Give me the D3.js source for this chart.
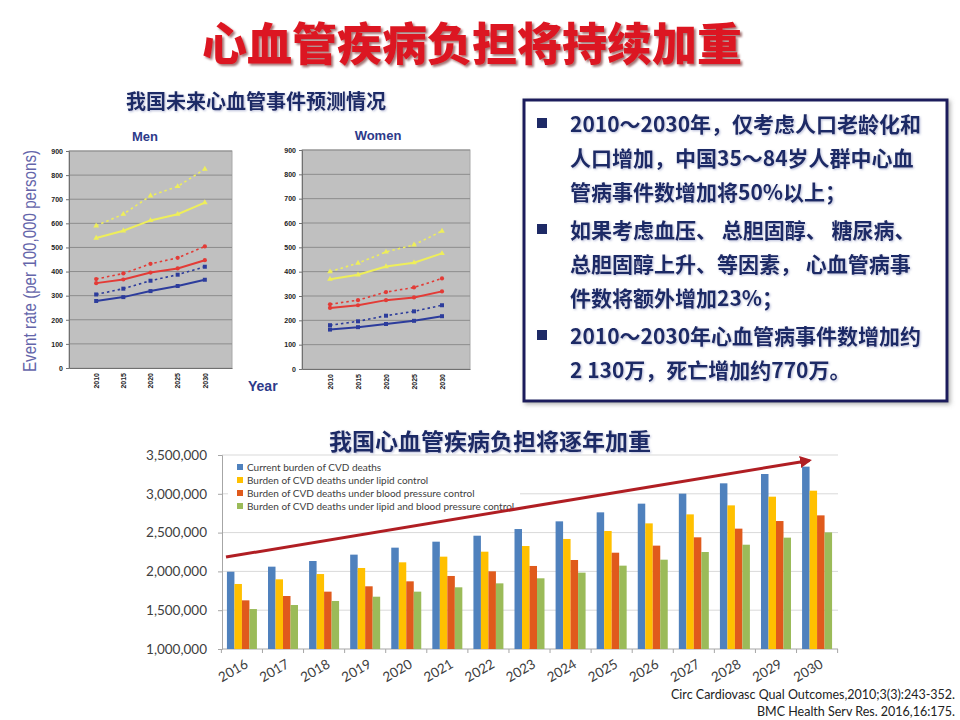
<!DOCTYPE html>
<html>
<head>
<meta charset="utf-8">
<script src="https://cdn.jsdelivr.net/npm/d3@7"></script>
<style>
  body { margin: 0; background: #fff; }
</style>
</head>
<body>
<svg id="chart"></svg>
<script>
// ---- top: projected event rates (per 100,000 persons) ----
const lineYears = ['2010', '2015', '2020', '2025', '2030'];
const lineTicks = [0, 100, 200, 300, 400, 500, 600, 700, 800, 900];

const menYellowDotted = [590, 638, 714, 753, 825];
const menYellowSolid  = [539, 569, 612, 638, 686];
const menRedDotted    = [369, 392, 432, 457, 504];
const menRedSolid     = [352, 367, 396, 413, 447];
const menBlueDotted   = [305, 329, 362, 387, 420];
const menBlueSolid    = [278, 294, 319, 340, 366];

const womenYellowDotted = [400, 435, 481, 510, 567];
const womenYellowSolid  = [369, 387, 421, 437, 475];
const womenRedDotted    = [266, 283, 316, 335, 372];
const womenRedSolid     = [251, 262, 283, 294, 319];
const womenBlueDotted   = [180, 196, 219, 237, 262];
const womenBlueSolid    = [162, 172, 185, 198, 217];

// ---- bottom: burden of CVD deaths ----
const barYears = ['2016', '2017', '2018', '2019', '2020', '2021', '2022', '2023',
                  '2024', '2025', '2026', '2027', '2028', '2029', '2030'];
const barSeries = ['Current burden of CVD deaths',
                   'Burden of CVD deaths under lipid control',
                   'Burden of CVD deaths under blood pressure control',
                   'Burden of CVD deaths under lipid and blood pressure control'];
const currentBurden  = [1996000, 2061000, 2134000, 2216000, 2306000, 2383000, 2460000, 2546000,
                        2645000, 2761000, 2873000, 3002000, 3135000, 3255000, 3350000];
const lipidControl   = [1838000, 1898000, 1966000, 2044000, 2117000, 2190000, 2254000, 2327000,
                        2418000, 2521000, 2619000, 2735000, 2851000, 2963000, 3040000];
const bpControl      = [1627000, 1683000, 1739000, 1808000, 1872000, 1941000, 2001000, 2070000,
                        2147000, 2241000, 2332000, 2439000, 2551000, 2649000, 2722000];
const lipidBpControl = [1515000, 1567000, 1619000, 1674000, 1739000, 1795000, 1846000, 1911000,
                        1984000, 2074000, 2151000, 2250000, 2344000, 2435000, 2503000];
const barTicks = [1000000, 1500000, 2000000, 2500000, 3000000, 3500000];
const trendArrow = [2185000, 3430000]; // red arrow, from 2016 to 2030

const notes = [
  ['2010～2030年，仅考虑人口老龄化和', '人口增加，中国35～84岁人群中心血', '管病事件数增加将50%以上；'],
  ['如果考虑血压、 总胆固醇、 糖尿病、', '总胆固醇上升、等因素， 心血管病事', '件数将额外增加23%；'],
  ['2010～2030年心血管病事件数增加约', '2 130万，死亡增加约770万。']
];
const citations = ['Circ Cardiovasc Qual Outcomes,2010;3(3):243-352.', 'BMC Health Serv Res. 2016,16:175.'];

const cjk = '"Noto Sans CJK SC", "Noto Sans", sans-serif';
const latin = 'Lato, "Liberation Sans", sans-serif';
const navy = '#1e2a66';

const svg = d3.select('#chart').attr('width', 960).attr('height', 720);

const defs = svg.append('defs');
defs.append('filter').attr('id', 'titleShadow')
  .append('feDropShadow').attr('dx', 2).attr('dy', 2).attr('stdDeviation', 1)
  .attr('flood-color', '#5a0000').attr('flood-opacity', 0.55);
defs.append('filter').attr('id', 'softShadow')
  .append('feDropShadow').attr('dx', 1).attr('dy', 1).attr('stdDeviation', 1)
  .attr('flood-color', '#8890c0').attr('flood-opacity', 0.6);
defs.append('filter').attr('id', 'boxShadow').attr('x', -0.05).attr('y', -0.05).attr('width', 1.1).attr('height', 1.1)
  .append('feDropShadow').attr('dx', 2).attr('dy', 2).attr('stdDeviation', 2)
  .attr('flood-color', '#666').attr('flood-opacity', 0.5);
defs.append('marker').attr('id', 'arrowHead')
  .attr('viewBox', '0 0 10 10').attr('refX', 8).attr('refY', 5)
  .attr('markerWidth', 4).attr('markerHeight', 4).attr('orient', 'auto')
  .append('path').attr('d', 'M0,0 L10,5 L0,10 z').attr('fill', '#b01e23');

// titles
svg.append('text')
  .attr('x', 472).attr('y', 41)
  .attr('text-anchor', 'middle').attr('dominant-baseline', 'central')
  .attr('font-family', cjk).attr('font-weight', 900).attr('font-size', 45)
  .attr('fill', '#dc1920').attr('filter', 'url(#titleShadow)')
  .text('心血管疾病负担将持续加重');

svg.append('text')
  .attr('x', 256).attr('y', 100)
  .attr('text-anchor', 'middle').attr('dominant-baseline', 'central')
  .attr('font-family', cjk).attr('font-weight', 700).attr('font-size', 20)
  .attr('fill', navy).attr('filter', 'url(#softShadow)')
  .text('我国未来心血管事件预测情况');

// ---- line charts ----
function drawLineChart(cfg) {
  const g = svg.append('g');
  const x = d3.scalePoint().domain(lineYears).range([cfg.left, cfg.right]).padding(1);
  const y = d3.scaleLinear().domain([0, 900]).range([cfg.bottom, cfg.top]);

  g.append('rect')
    .attr('x', cfg.left).attr('y', cfg.top)
    .attr('width', cfg.right - cfg.left).attr('height', cfg.bottom - cfg.top)
    .attr('fill', '#c0c0c0').attr('stroke', '#a8a8a8');

  g.selectAll('.grid').data(lineTicks.filter(t => t > 0)).join('line')
    .attr('x1', cfg.left).attr('x2', cfg.right)
    .attr('y1', d => y(d)).attr('y2', d => y(d))
    .attr('stroke', '#8c8c8c').attr('stroke-width', 1);

  const yAxis = g.append('g')
    .attr('transform', `translate(${cfg.left},0)`)
    .call(d3.axisLeft(y).tickValues(lineTicks).tickSize(3).tickPadding(3));
  yAxis.select('.domain').attr('stroke', '#707070');
  yAxis.selectAll('line').attr('stroke', '#707070');
  yAxis.selectAll('text').attr('font-family', '"Liberation Sans", Arial, sans-serif')
    .attr('font-weight', 700).attr('font-size', 7).attr('fill', '#222');

  const xAxis = g.append('g')
    .attr('transform', `translate(0,${cfg.bottom})`)
    .call(d3.axisBottom(x).tickSize(0).tickPadding(5));
  xAxis.select('.domain').attr('stroke', '#707070');
  xAxis.selectAll('text')
    .attr('font-family', '"Liberation Sans", Arial, sans-serif')
    .attr('font-weight', 700).attr('font-size', 7).attr('fill', '#222')
    .attr('text-anchor', 'end').attr('dy', '0.32em')
    .attr('transform', 'rotate(-90)')
    .attr('x', -5).attr('y', 0);

  const line = d3.line().x((d, i) => x(lineYears[i])).y(d => y(d));

  cfg.series.forEach(s => {
    g.append('path')
      .attr('d', line(s.values))
      .attr('fill', 'none')
      .attr('stroke', s.color)
      .attr('stroke-width', s.dashed ? 1.6 : 2)
      .attr('stroke-dasharray', s.dashed ? '2.5,3' : null);
    const sym = d3.symbol().type(s.marker).size(s.marker === d3.symbolSquare ? 16 : 14);
    g.selectAll(null).data(s.values).join('path')
      .attr('d', sym)
      .attr('transform', (d, i) => `translate(${x(lineYears[i])},${y(d)})`)
      .attr('fill', s.color);
  });

  g.append('text')
    .attr('x', cfg.titleX).attr('y', cfg.top - 15)
    .attr('text-anchor', 'middle').attr('dominant-baseline', 'central')
    .attr('font-family', '"Liberation Sans", Arial, sans-serif')
    .attr('font-weight', 700).attr('font-size', 13)
    .attr('fill', '#2d3a8a')
    .text(cfg.title);
}

const yellow = '#eeee5a', red = '#e33b36', blue = '#2c3c9c';

drawLineChart({
  left: 69, right: 232, top: 151, bottom: 368, title: 'Men', titleX: 145,
  series: [
    {values: menYellowDotted, color: yellow, dashed: true, marker: d3.symbolTriangle},
    {values: menYellowSolid, color: yellow, dashed: false, marker: d3.symbolTriangle},
    {values: menRedDotted, color: red, dashed: true, marker: d3.symbolCircle},
    {values: menRedSolid, color: red, dashed: false, marker: d3.symbolCircle},
    {values: menBlueDotted, color: blue, dashed: true, marker: d3.symbolSquare},
    {values: menBlueSolid, color: blue, dashed: false, marker: d3.symbolSquare}
  ]
});

drawLineChart({
  left: 302, right: 470, top: 150, bottom: 369, title: 'Women', titleX: 378,
  series: [
    {values: womenYellowDotted, color: yellow, dashed: true, marker: d3.symbolTriangle},
    {values: womenYellowSolid, color: yellow, dashed: false, marker: d3.symbolTriangle},
    {values: womenRedDotted, color: red, dashed: true, marker: d3.symbolCircle},
    {values: womenRedSolid, color: red, dashed: false, marker: d3.symbolCircle},
    {values: womenBlueDotted, color: blue, dashed: true, marker: d3.symbolSquare},
    {values: womenBlueSolid, color: blue, dashed: false, marker: d3.symbolSquare}
  ]
});

svg.append('text')
  .attr('transform', 'translate(29,261) rotate(-90)')
  .attr('text-anchor', 'middle').attr('dominant-baseline', 'central')
  .attr('font-family', '"Liberation Sans", Arial, sans-serif')
  .attr('font-size', 18.5).attr('fill', '#6465aa')
  .attr('textLength', 222).attr('lengthAdjust', 'spacingAndGlyphs')
  .text('Event rate (per 100,000 persons)');

svg.append('text')
  .attr('x', 248).attr('y', 386)
  .attr('dominant-baseline', 'central')
  .attr('font-family', '"Liberation Sans", Arial, sans-serif')
  .attr('font-weight', 700).attr('font-size', 14).attr('fill', '#2d3a8a')
  .text('Year');

// ---- text box ----
const box = svg.append('g');
box.append('rect')
  .attr('x', 524).attr('y', 100).attr('width', 423).attr('height', 301)
  .attr('fill', '#fff').attr('stroke', '#1a1f5c').attr('stroke-width', 3)
  .attr('filter', 'url(#boxShadow)');

let ly = 123;
notes.forEach((para, pi) => {
  if (pi > 0) ly += 4;
  box.append('rect')
    .attr('x', 537).attr('y', ly - 5).attr('width', 10).attr('height', 10)
    .attr('fill', navy);
  para.forEach(t => {
    box.append('text')
      .attr('x', 570).attr('y', ly)
      .attr('dominant-baseline', 'central')
      .attr('font-family', cjk).attr('font-weight', 700).attr('font-size', 21)
      .attr('fill', navy).attr('filter', 'url(#softShadow)')
      .text(t);
    ly += 34;
  });
});

// ---- bar chart ----
svg.append('text')
  .attr('x', 490).attr('y', 440)
  .attr('text-anchor', 'middle').attr('dominant-baseline', 'central')
  .attr('font-family', cjk).attr('font-weight', 700).attr('font-size', 23)
  .attr('fill', navy).attr('filter', 'url(#softShadow)')
  .text('我国心血管疾病负担将逐年加重');

const bx = d3.scaleBand().domain(barYears).range([222, 837]).paddingInner(0.27).paddingOuter(0.12);
const bx1 = d3.scaleBand().domain(barSeries).range([0, bx.bandwidth()]);
const by = d3.scaleLinear().domain([1000000, 3500000]).range([649, 455]);
const barColors = d3.scaleOrdinal().domain(barSeries).range(['#4f81bd', '#ffc000', '#e05a1c', '#9bbb59']);
const barValues = [currentBurden, lipidControl, bpControl, lipidBpControl];

const bar = svg.append('g');

bar.selectAll('.bgrid').data(barTicks.filter(t => t > 1000000)).join('line')
  .attr('x1', 222).attr('x2', 838)
  .attr('y1', d => by(d)).attr('y2', d => by(d))
  .attr('stroke', '#d9d9d9').attr('stroke-width', 1);

const byAxis = bar.append('g')
  .attr('transform', 'translate(222,0)')
  .call(d3.axisLeft(by).tickValues(barTicks).tickFormat(d3.format(',')).tickSize(4).tickPadding(11));
byAxis.select('.domain').attr('stroke', '#a6a6a6');
byAxis.selectAll('line').attr('stroke', '#a6a6a6');
byAxis.selectAll('text').attr('font-family', latin).attr('font-size', 13.5).attr('fill', '#404040');

// x axis with ticks between groups
const step = bx.step();
bar.append('line')
  .attr('x1', 222).attr('x2', 838).attr('y1', 649).attr('y2', 649)
  .attr('stroke', '#a6a6a6');
bar.selectAll('.xtick').data(barYears.concat(['end'])).join('line')
  .attr('x1', (d, i) => bx(barYears[0]) - step * bx.paddingInner() / 2 + i * step)
  .attr('x2', (d, i) => bx(barYears[0]) - step * bx.paddingInner() / 2 + i * step)
  .attr('y1', 649).attr('y2', 653)
  .attr('stroke', '#a6a6a6');
bar.selectAll('.xlabel').data(barYears).join('text')
  .attr('transform', d => `translate(${bx(d) + bx.bandwidth() / 2 + 2},${658}) rotate(-30)`)
  .attr('text-anchor', 'end').attr('dy', '0.75em')
  .attr('font-family', latin).attr('font-size', 13.5).attr('fill', '#404040')
  .text(d => d);

barValues.forEach((vals, si) => {
  bar.selectAll(null).data(vals).join('rect')
    .attr('x', (d, i) => bx(barYears[i]) + bx1(barSeries[si]))
    .attr('width', bx1.bandwidth())
    .attr('y', d => by(d))
    .attr('height', d => by(1000000) - by(d))
    .attr('fill', barColors(barSeries[si]));
});

// legend
const legend = bar.append('g');
legend.append('rect')
  .attr('x', 228).attr('y', 459).attr('width', 292).attr('height', 54)
  .attr('fill', '#fff');
barSeries.forEach((s, i) => {
  legend.append('rect')
    .attr('x', 237).attr('y', 464 + i * 13).attr('width', 6).attr('height', 6)
    .attr('fill', barColors(s));
  legend.append('text')
    .attr('x', 247).attr('y', 467 + i * 13)
    .attr('dominant-baseline', 'central')
    .attr('font-family', latin).attr('font-size', 10).attr('fill', '#404040')
    .text(s);
});

// trend arrow
bar.append('line')
  .attr('x1', bx.range()[0] + 4).attr('y1', by(trendArrow[0]))
  .attr('x2', bx('2030') + bx1.bandwidth()).attr('y2', by(trendArrow[1]))
  .attr('stroke', '#b01e23').attr('stroke-width', 3)
  .attr('marker-end', 'url(#arrowHead)');

// citations
svg.selectAll('.cite').data(citations).join('text')
  .attr('x', 955).attr('y', (d, i) => 694 + i * 17)
  .attr('text-anchor', 'end').attr('dominant-baseline', 'central')
  .attr('font-family', latin).attr('font-size', 12.5).attr('fill', '#222')
  .text(d => d);
</script>
</body>
</html>
